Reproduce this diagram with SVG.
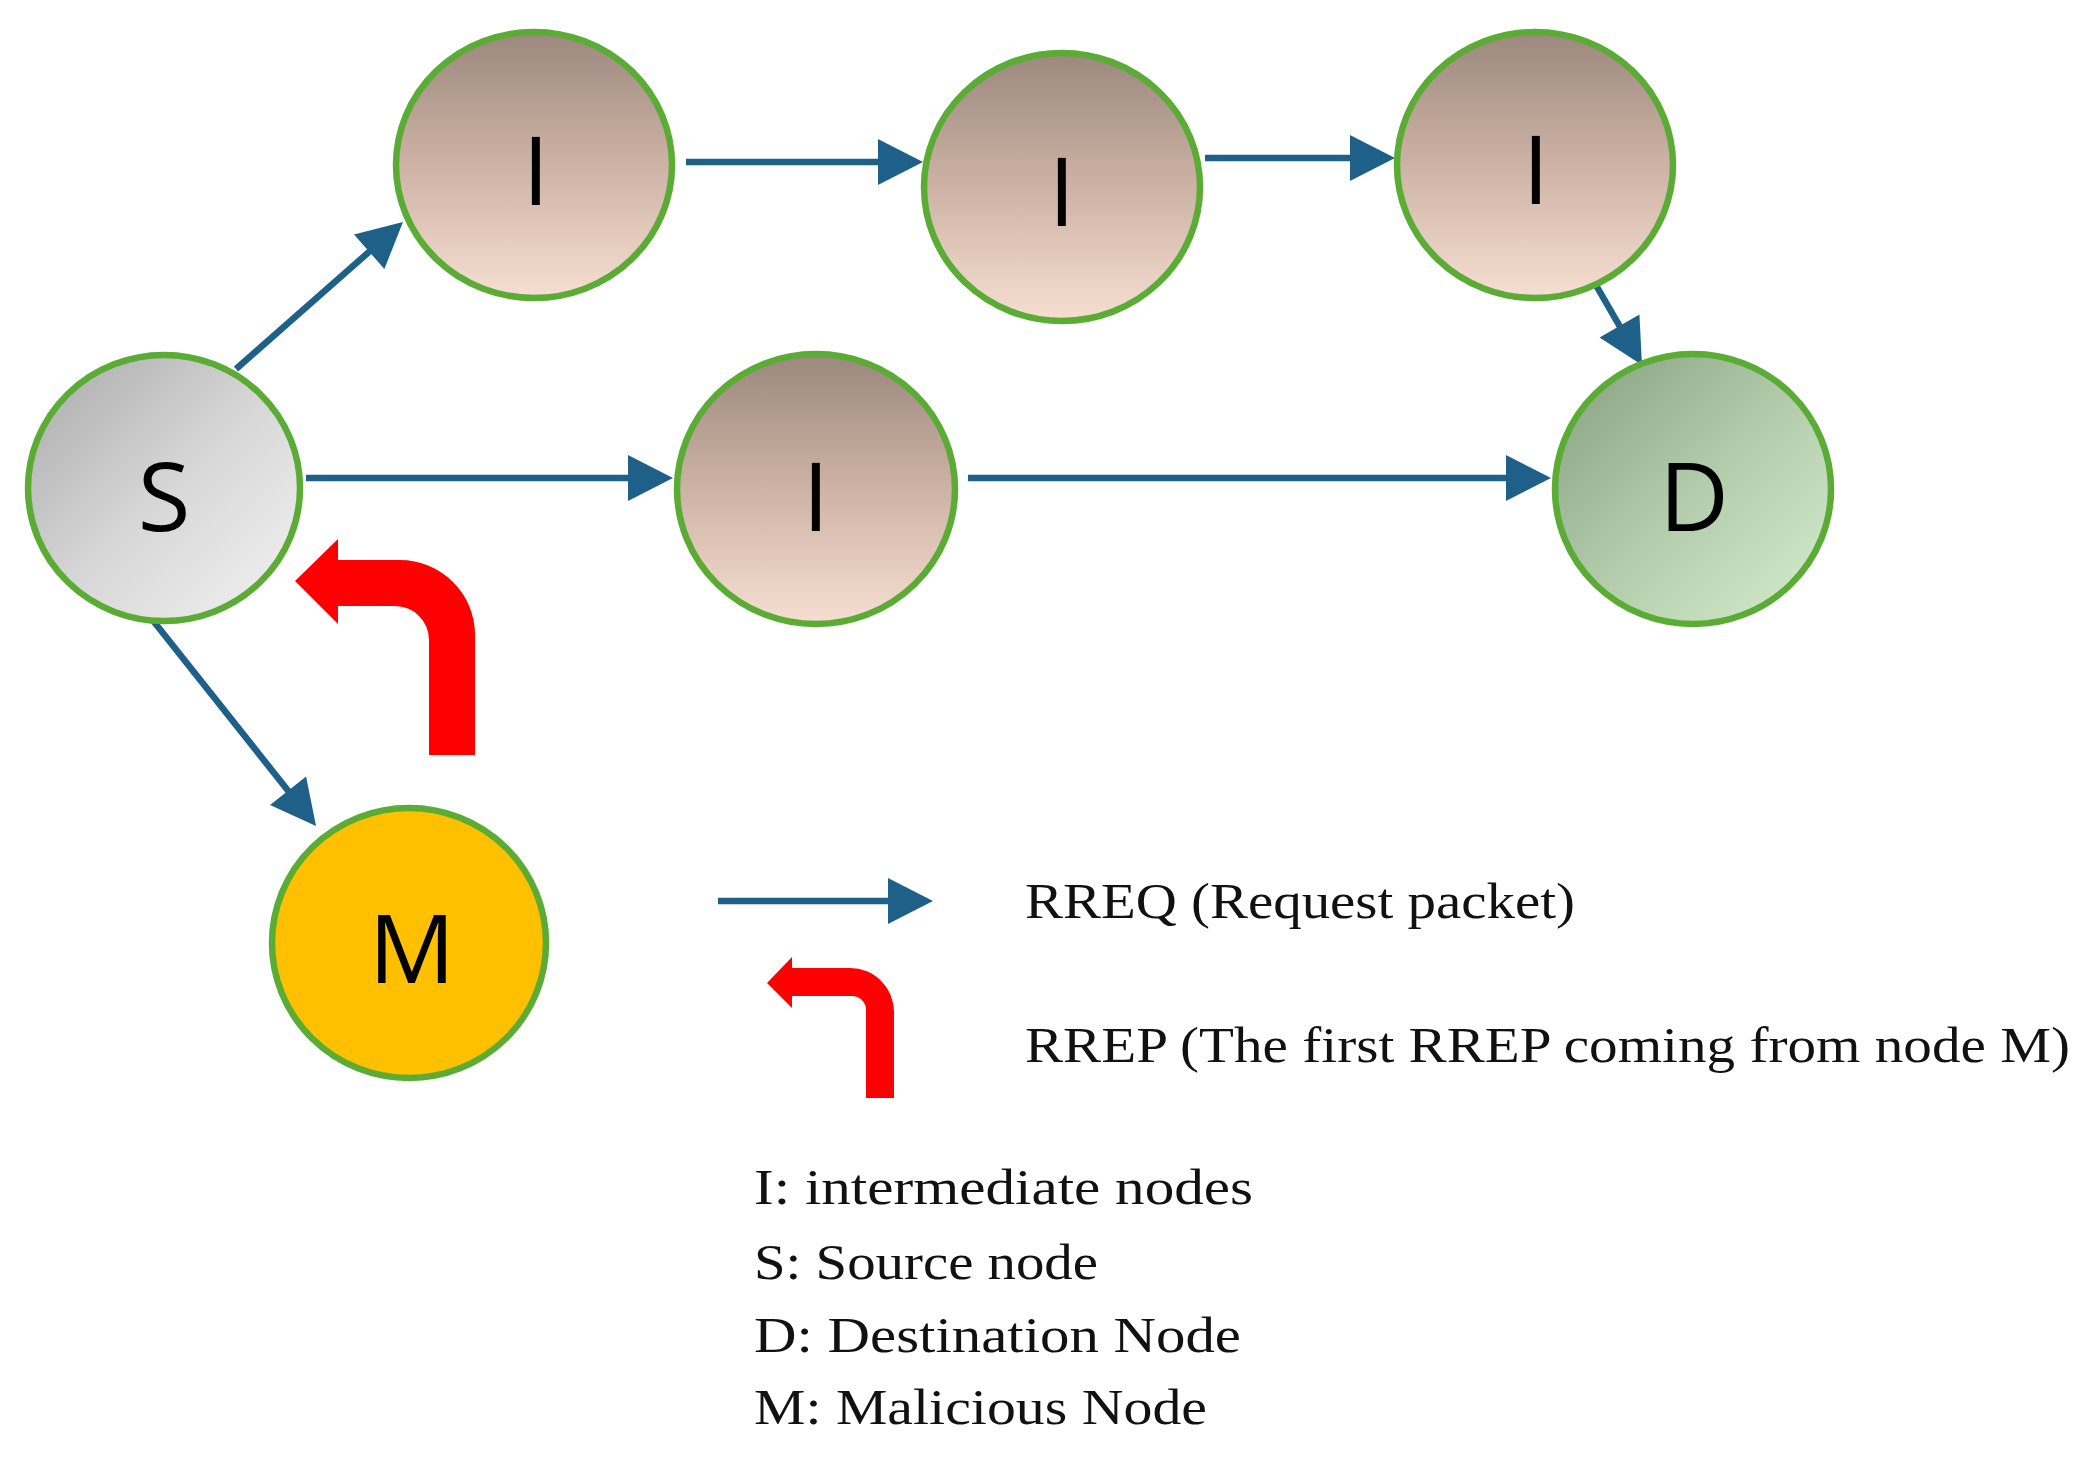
<svg xmlns="http://www.w3.org/2000/svg" width="2081" height="1457" viewBox="0 0 2081 1457">
<defs>
<linearGradient id="gI" x1="0" y1="0" x2="0" y2="1">
<stop offset="0" stop-color="#9c887e"/>
<stop offset="0.5" stop-color="#cdb3a5"/>
<stop offset="1" stop-color="#f6dfd2"/>
</linearGradient>
<linearGradient id="gS" x1="0" y1="0" x2="1" y2="1">
<stop offset="0" stop-color="#a9a9a9"/>
<stop offset="0.5" stop-color="#d6d6d6"/>
<stop offset="1" stop-color="#f4f4f4"/>
</linearGradient>
<linearGradient id="gD" x1="0" y1="0" x2="1" y2="1">
<stop offset="0" stop-color="#869f80"/>
<stop offset="0.5" stop-color="#b2cbaa"/>
<stop offset="1" stop-color="#d6efcf"/>
</linearGradient>
<marker id="ah" markerUnits="userSpaceOnUse" markerWidth="48" markerHeight="46" refX="2" refY="23" orient="auto" overflow="visible">
<path d="M0,0 L45,23 L0,46 z" fill="#1f6089"/>
</marker>
</defs>
<style>
.node{stroke:#5aac35;stroke-width:6.5}
.lbl{font-family:"Open Sans","Noto Sans",sans-serif;font-size:96px;fill:#000;text-anchor:middle}
.conn{stroke:#1f6089;stroke-width:6.5;fill:none;marker-end:url(#ah)}
.rrep{fill:#ff0000}
.leg{font-family:"Liberation Serif",serif;font-size:50px;fill:#111}
</style>
<rect width="2081" height="1457" fill="#fff"/>
<g id="connectors">
<line class="conn" x1="236" y1="369" x2="370.7" y2="250.4"/>
<line class="conn" x1="686" y1="162" x2="880" y2="162"/>
<line class="conn" x1="1205" y1="158" x2="1352" y2="158"/>
<line class="conn" x1="1593" y1="280" x2="1620.5" y2="327.7"/>
<line class="conn" x1="306" y1="478" x2="630" y2="478"/>
<line class="conn" x1="968" y1="478" x2="1508" y2="478"/>
<line class="conn" x1="151" y1="618" x2="289.3" y2="792.3" stroke-width="5"/>
<path id="rrep-big" class="rrep" d="M429,755 L429,640 A34,34 0 0 0 395,606 L338,606 L338,624 L295,581 L338,539 L338,560 L400,560 A75,75 0 0 1 475,635 L475,755 Z"/>
</g>
<g id="node-I1"><ellipse class="node" cx="534" cy="165" rx="138" ry="133" fill="url(#gI)"/><text class="lbl" x="536" y="205">I</text></g>
<g id="node-I2"><ellipse class="node" cx="1062" cy="187" rx="138" ry="134" fill="url(#gI)"/><text class="lbl" x="1062" y="226">I</text></g>
<g id="node-I3"><ellipse class="node" cx="1535" cy="165" rx="138" ry="133" fill="url(#gI)"/><text class="lbl" x="1536" y="204">I</text></g>
<g id="node-S"><ellipse class="node" cx="164" cy="488" rx="136" ry="133" fill="url(#gS)"/><text class="lbl" x="164" y="531">S</text></g>
<g id="node-I4"><ellipse class="node" cx="816" cy="489" rx="139" ry="135" fill="url(#gI)"/><text class="lbl" x="816" y="531">I</text></g>
<g id="node-D"><ellipse class="node" cx="1693" cy="489" rx="138" ry="135" fill="url(#gD)"/><text class="lbl" x="1694" y="531">D</text></g>
<g id="node-M"><ellipse class="node" cx="409" cy="943" rx="137" ry="135" fill="#ffc000"/><text class="lbl" x="412" y="983">M</text></g>
<g id="legend">
<line class="conn" x1="718" y1="901" x2="890" y2="901"/>
<path class="rrep" d="M866,1098 L866,1010 A14,14 0 0 0 852,996 L792,996 L792,1008 L767,983 L792,957 L792,968 L850,968 A44,44 0 0 1 894,1012 L894,1098 Z"/>
<text class="leg" x="1025" y="918" textLength="550" lengthAdjust="spacingAndGlyphs">RREQ (Request packet)</text>
<text class="leg" x="1025" y="1062" textLength="1045" lengthAdjust="spacingAndGlyphs">RREP (The first RREP coming from node M)</text>
<text class="leg" x="754" y="1204" textLength="499" lengthAdjust="spacingAndGlyphs">I: intermediate nodes</text>
<text class="leg" x="754" y="1279" textLength="344" lengthAdjust="spacingAndGlyphs">S: Source node</text>
<text class="leg" x="754" y="1352" textLength="487" lengthAdjust="spacingAndGlyphs">D: Destination Node</text>
<text class="leg" x="754" y="1424" textLength="453" lengthAdjust="spacingAndGlyphs">M: Malicious Node</text>
</g>
</svg>
